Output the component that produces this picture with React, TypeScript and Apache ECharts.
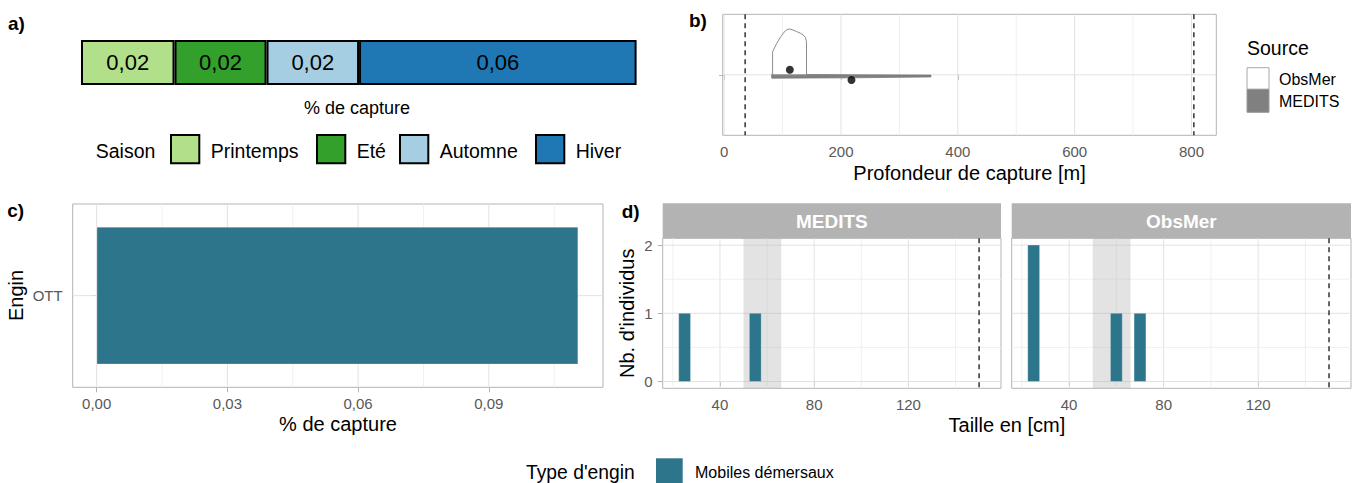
import React, { useEffect, useRef } from 'react';
import * as echarts from 'echarts';

// ---------- data ----------
const seasonNames = ['Printemps', 'Eté', 'Automne', 'Hiver'];
const seasonValues = [0.0186, 0.0183, 0.0184, 0.0552];
const seasonColors = ['#b2df8a', '#33a02c', '#a6cee3', '#1f78b4'];

const gearCategories = ['OTT'];
const gearValues = [0.1105];
const gearTypeName = 'Mobiles démersaux';
const captureTicks = [0, 0.03, 0.06, 0.09];
const captureMinor = [0.015, 0.045, 0.075, 0.105];

const depthTicks = [0, 200, 400, 600, 800];
const depthMinor = [100, 300, 500, 700];
const depthLimits = [36, 804];
// violin outlines: [depth (m), relative half-width]
const obsmerViolin = [
  [83, 0], [83, 0.38], [90, 0.52], [97, 0.63], [104, 0.72], [108, 0.75], [112, 0.757],
  [118, 0.74], [124, 0.715], [130, 0.69], [135, 0.66], [139, 0.62], [141, 0.55], [141, 0],
];
const meditsViolin = [
  [81.5, 0.01], [220, 0.0], [354, -0.005], [354, -0.035], [220, -0.05], [81.5, -0.055],
];
const obsmerMedian = [[112.5, 0.084]];
const meditsMedian = [[218, -0.086]];

const sizeTicks = [40, 80, 120];
const sizeMinor = [20, 60, 100, 140];
const countTicks = [0, 1, 2];
const countMinor = [0.5, 1.5];
const binWidth = 5;
const meditsBins = [[25, 1], [55, 1]];
const obsmerBins = [[25, 2], [60, 1], [70, 1]];
const maturityRange = [50, 66];
const sizeLimit = [150];

// ---------- styles ----------
const FONT = '"Liberation Sans", Arial, Helvetica, sans-serif';
const AXIS_TEXT = '#595959';
const BORDER = '#b3b3b3';
const GRID_MAJOR = '#e2e2e2';
const GRID_MINOR = '#f0f0f0';
const GEAR_COLOR = '#2c758b';
const DASH = [5, 4];

const comma = (v: number) => v.toFixed(2).replace('.', ',');

function vLines(values: number[], xi: number, yRef: number, color: string, width: number, z: number, dash?: number[]) {
  return {
    type: 'custom', xAxisIndex: xi, yAxisIndex: xi, silent: true, z,
    data: values.map((v) => [v, yRef]),
    renderItem: (params: any, api: any) => {
      const cs = params.coordSys;
      const x = api.coord([api.value(0), yRef])[0];
      return {
        type: 'line',
        shape: { x1: x, y1: cs.y, x2: x, y2: cs.y + cs.height },
        style: { stroke: color, lineWidth: width, lineDash: dash || null },
      };
    },
  };
}

function hLines(values: number[], xi: number, xRef: number, color: string, width: number, z: number) {
  return {
    type: 'custom', xAxisIndex: xi, yAxisIndex: xi, silent: true, z,
    data: values.map((v) => [xRef, v]),
    renderItem: (params: any, api: any) => {
      const cs = params.coordSys;
      const y = api.coord([xRef, api.value(1)])[1];
      return {
        type: 'line',
        shape: { x1: cs.x, y1: y, x2: cs.x + cs.width, y2: y },
        style: { stroke: color, lineWidth: width },
      };
    },
  };
}

function polygonSeries(name: string, points: number[][], xi: number, fill: string, stroke: string, lw: number, z: number) {
  return {
    name, type: 'custom', xAxisIndex: xi, yAxisIndex: xi, silent: true, z,
    data: [points[0]],
    renderItem: (params: any, api: any) => ({
      type: 'polygon',
      shape: { points: points.map((p) => api.coord(p)) },
      style: { fill, stroke, lineWidth: lw },
    }),
  };
}

function histSeries(name: string, bins: number[][], xi: number) {
  return {
    name, type: 'custom', xAxisIndex: xi, yAxisIndex: xi, z: 4,
    data: bins,
    renderItem: (params: any, api: any) => {
      const c = api.value(0);
      const n = api.value(1);
      const p0 = api.coord([c - binWidth / 2, 0]);
      const p1 = api.coord([c + binWidth / 2, n]);
      return {
        type: 'rect',
        shape: { x: p0[0], y: p1[1], width: p1[0] - p0[0], height: p0[1] - p1[1] },
        style: { fill: GEAR_COLOR, stroke: 'rgba(255,255,255,0.45)', lineWidth: 0.6 },
      };
    },
  };
}

function bandSeries(range: number[], xi: number) {
  return {
    type: 'custom', xAxisIndex: xi, yAxisIndex: xi, silent: true, z: 3,
    data: [[range[0], range[1]]],
    renderItem: (params: any, api: any) => {
      const cs = params.coordSys;
      const x0 = api.coord([api.value(0), 0])[0];
      const x1 = api.coord([api.value(1), 0])[0];
      return {
        type: 'rect',
        shape: { x: x0, y: cs.y, width: x1 - x0, height: cs.height },
        style: { fill: 'rgba(175,175,175,0.35)' },
      };
    },
  };
}

const tickStyle = { show: true, length: 5, lineStyle: { color: BORDER, width: 1 } };
const labelStyle = { fontFamily: FONT, fontSize: 15, color: AXIS_TEXT };

function txt(text: string, x: number, y: number, o: any = {}) {
  return {
    type: 'text', x, y, silent: true, rotation: o.rotation || 0,
    style: {
      text, fontFamily: FONT, fontSize: o.size || 20, fontWeight: o.weight || 'normal',
      fill: o.color || '#000', align: o.align || 'center', verticalAlign: 'middle',
    },
  };
}
function box(x: number, y: number, w: number, h: number, fill: string, stroke?: string, lw?: number) {
  return { type: 'rect', silent: true, shape: { x, y, width: w, height: h }, style: { fill, stroke: stroke || null, lineWidth: lw || 0 } };
}

export default function App() {
  const ref = useRef<HTMLDivElement>(null);
  useEffect(() => {
    document.body.style.margin = '0';
    const chart = echarts.init(ref.current!, null, { renderer: 'svg' });
    const total = seasonValues.reduce((a, b) => a + b, 0);

    const gridBase = { show: true, borderColor: BORDER, borderWidth: 1, backgroundColor: 'transparent', outerBoundsMode: 'none', containLabel: false };
    const grids = [
      { left: 81, top: 40, width: 555.6, height: 45, show: false, outerBoundsMode: 'none', containLabel: false },
      { ...gridBase, left: 722.7, top: 14.3, width: 493.6, height: 121 },
      { ...gridBase, left: 72.7, top: 204, width: 530.3, height: 183.3 },
      { ...gridBase, left: 662.7, top: 238.3, width: 338.3, height: 150 },
      { ...gridBase, left: 1011.7, top: 238.3, width: 339.3, height: 150 },
    ];

    const xAxes = [
      { type: 'value', gridIndex: 0, min: 0, max: total, show: false },
      {
        type: 'value', gridIndex: 1, min: -2.4, max: 842.4,
        axisLine: { show: false }, splitLine: { show: false },
        axisTick: { ...tickStyle, customValues: depthTicks },
        axisLabel: { ...labelStyle, margin: 9, customValues: depthTicks },
      },
      {
        type: 'value', gridIndex: 2, min: -0.0055, max: 0.1162,
        axisLine: { show: false }, splitLine: { show: false },
        axisTick: { ...tickStyle, customValues: captureTicks },
        axisLabel: { ...labelStyle, margin: 9, customValues: captureTicks, formatter: (v: number) => comma(v) },
      },
      {
        type: 'value', gridIndex: 3, min: 15.7, max: 159.3,
        axisLine: { show: false }, splitLine: { show: false },
        axisTick: { ...tickStyle, customValues: sizeTicks },
        axisLabel: { ...labelStyle, margin: 9, customValues: sizeTicks },
      },
      {
        type: 'value', gridIndex: 4, min: 15.7, max: 159.3,
        axisLine: { show: false }, splitLine: { show: false },
        axisTick: { ...tickStyle, customValues: sizeTicks },
        axisLabel: { ...labelStyle, margin: 9, customValues: sizeTicks },
      },
    ];
    const yAxes = [
      { type: 'category', gridIndex: 0, data: ['all'], show: false },
      {
        type: 'value', gridIndex: 1, min: -1, max: 1,
        axisLine: { show: false }, splitLine: { show: false },
        axisTick: { ...tickStyle, customValues: [0] },
        axisLabel: { show: false },
      },
      {
        type: 'category', gridIndex: 2, data: gearCategories,
        axisLine: { show: false }, splitLine: { show: false },
        axisTick: { ...tickStyle, alignWithLabel: true },
        axisLabel: { ...labelStyle, margin: 10 },
      },
      {
        type: 'value', gridIndex: 3, min: -0.1, max: 2.1,
        axisLine: { show: false }, splitLine: { show: false },
        axisTick: { ...tickStyle, customValues: countTicks },
        axisLabel: { ...labelStyle, margin: 10, customValues: countTicks },
      },
      {
        type: 'value', gridIndex: 4, min: -0.1, max: 2.1,
        axisLine: { show: false }, splitLine: { show: false },
        axisTick: { show: false }, axisLabel: { show: false },
      },
    ];

    const series: any[] = [];
    // a) seasons
    seasonNames.forEach((n, i) => {
      series.push({
        name: n, type: 'bar', stack: 'season', xAxisIndex: 0, yAxisIndex: 0,
        data: [seasonValues[i]], barWidth: '100%',
        itemStyle: { color: seasonColors[i], borderColor: '#000', borderWidth: 2 },
        label: {
          show: true, position: 'inside', formatter: (p: any) => comma(p.value),
          fontFamily: FONT, fontSize: 22, color: '#000',
        },
      });
    });
    // b) depth
    series.push(vLines(depthTicks, 1, 0, GRID_MAJOR, 1, 1));
    series.push(vLines(depthMinor, 1, 0, GRID_MINOR, 1, 1));
    series.push(hLines([0], 1, 0, GRID_MAJOR, 1, 1));
    series.push(polygonSeries('MEDITS', meditsViolin, 1, '#808080', '#7a7a7a', 0.8, 3));
    series.push(polygonSeries('ObsMer', obsmerViolin, 1, '#ffffff', '#8c8c8c', 1, 3));
    series.push({ type: 'scatter', xAxisIndex: 1, yAxisIndex: 1, data: obsmerMedian, symbolSize: 8, itemStyle: { color: '#000' }, z: 5, silent: true });
    series.push({ type: 'scatter', xAxisIndex: 1, yAxisIndex: 1, data: meditsMedian, symbolSize: 8, itemStyle: { color: '#000' }, z: 5, silent: true });
    series.push(vLines(depthLimits, 1, 0, '#333333', 1.5, 6, DASH));
    // c) gear
    series.push(vLines(captureTicks, 2, 0, GRID_MAJOR, 1, 1));
    series.push(vLines(captureMinor, 2, 0, GRID_MINOR, 1, 1));
    series.push(hLines([0], 2, 0, GRID_MAJOR, 1, 1));
    series.push({
      name: gearTypeName, type: 'bar', xAxisIndex: 2, yAxisIndex: 2, data: gearValues, barWidth: '75%',
      itemStyle: { color: GEAR_COLOR, borderColor: 'rgba(255,255,255,0.45)', borderWidth: 0.6 }, z: 4,
    });
    // d) size histograms
    [3, 4].forEach((xi) => {
      series.push(vLines(sizeTicks, xi, 0, GRID_MAJOR, 1, 1));
      series.push(vLines(sizeMinor, xi, 0, GRID_MINOR, 1, 1));
      series.push(hLines(countTicks, xi, 50, GRID_MAJOR, 1, 1));
      series.push(hLines(countMinor, xi, 50, GRID_MINOR, 1, 1));
      series.push(bandSeries(maturityRange, xi));
      series.push(vLines(sizeLimit, xi, 0, '#333333', 1.5, 6, DASH));
    });
    series.push(histSeries('MEDITS', meditsBins, 3));
    series.push(histSeries('ObsMer', obsmerBins, 4));

    const legendKeysX = [171, 317, 400, 536];
    const graphics: any[] = [
      txt('a)', 8, 23.3, { weight: 'bold', size: 19, align: 'left' }),
      txt('b)', 689, 20, { weight: 'bold', size: 19, align: 'left' }),
      txt('c)', 7.3, 210.7, { weight: 'bold', size: 19, align: 'left' }),
      txt('d)', 621.7, 211, { weight: 'bold', size: 19, align: 'left' }),
      txt('% de capture', 357, 108, { size: 18 }),
      txt('Profondeur de capture [m]', 969.5, 173),
      txt('% de capture', 338, 424),
      txt('Taille en [cm]', 1006.9, 424.5),
      txt('Engin', 16, 295.5, { rotation: Math.PI / 2 }),
      txt("Nb. d'individus", 626.7, 313.3, { rotation: Math.PI / 2 }),
      // strips
      box(662.7, 203.3, 338.3, 35, '#b3b3b3'),
      box(1011.7, 203.3, 339.3, 35, '#b3b3b3'),
      txt('MEDITS', 831.9, 221.2, { weight: 'bold', size: 19, color: '#ffffff' }),
      txt('ObsMer', 1181.4, 221.2, { weight: 'bold', size: 19, color: '#ffffff' }),
      // legend a
      txt('Saison', 95.7, 150.7, { size: 19.5, align: 'left' }),
      // legend b
      txt('Source', 1247, 47.7, { size: 19.5, align: 'left' }),
      box(1247, 67.7, 22, 21.6, '#ffffff', '#a8a8a8', 1),
      box(1247, 89.3, 22, 23, '#808080', '#999999', 1),
      txt('ObsMer', 1279, 79.3, { size: 16, align: 'left' }),
      txt('MEDITS', 1279, 101, { size: 16, align: 'left' }),
      // bottom legend
      txt("Type d'engin", 526, 472.3, { size: 19.3, align: 'left' }),
      box(656, 458.3, 26.7, 26.7, GEAR_COLOR),
      txt(gearTypeName, 695, 472.3, { size: 16, align: 'left' }),
    ];
    seasonNames.forEach((n, i) => {
      graphics.push(box(legendKeysX[i], 135, 28.3, 28.3, seasonColors[i], '#000', 2));
      graphics.push(txt(n, legendKeysX[i] + 39.7, 150.7, { size: 19.5, align: 'left' }));
    });

    chart.setOption({
      animation: false,
      backgroundColor: '#ffffff',
      textStyle: { fontFamily: FONT },
      grid: grids,
      xAxis: xAxes,
      yAxis: yAxes,
      series,
      graphic: graphics,
    });
    return () => chart.dispose();
  }, []);
  return <div ref={ref} style={{ position: 'absolute', left: 0, top: 0, width: 1354, height: 483 }} />;
}
